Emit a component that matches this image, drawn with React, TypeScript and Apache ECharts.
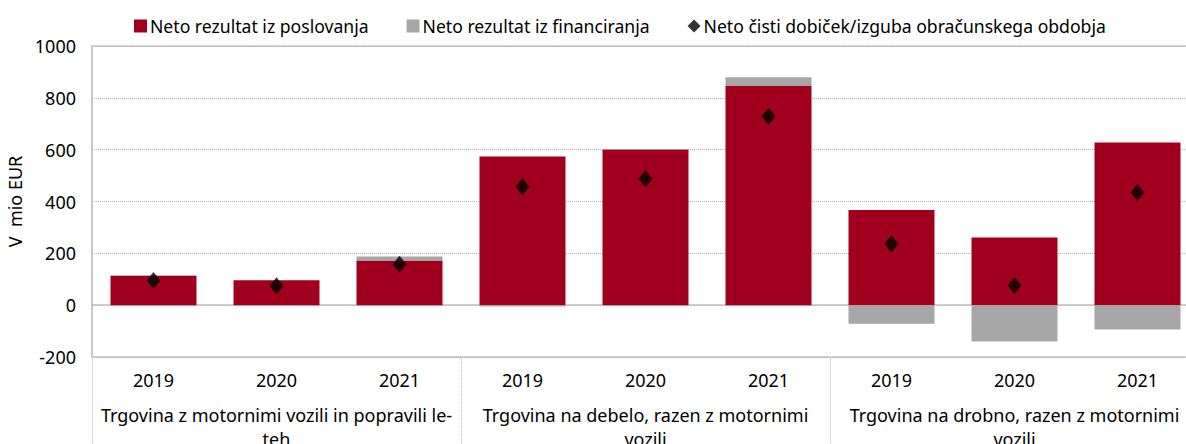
import React, { useEffect, useRef } from "react";
import * as echarts from "echarts";

const years = ["2019", "2020", "2021", "2019", "2020", "2021", "2019", "2020", "2021"];
const groups = [
  "Trgovina z motornimi vozili in popravili le-\nteh",
  "Trgovina na debelo, razen z motornimi\nvozili",
  "Trgovina na drobno, razen z motornimi\nvozili",
];
const poslovanje = [113, 96, 172, 574, 601, 846, 367, 261, 628];
const financiranje = [2, -3, 16, -5, 2, 33, -72, -140, -94];
const cistiDobicek = [95, 75, 158, 457, 488, 729, 237, 76, 435];
const yTicks = { min: -200, max: 1000, interval: 200 };

const FONT = "'Noto Sans', sans-serif";
const FS = 18;

export default function App() {
  const ref = useRef<HTMLDivElement>(null);
  useEffect(() => {
    if (!ref.current) return;
    const chart = echarts.init(ref.current, undefined, { renderer: "svg" });
    chart.setOption({
      animation: false,
      textStyle: { fontFamily: FONT },
      legend: {
        left: 129,
        top: 12,
        itemGap: 38,
        itemWidth: 13,
        itemHeight: 13,
        textStyle: { fontSize: 17.6, color: "#000", fontFamily: FONT, padding: [0, 0, 0, -2] },
        data: [
          { name: "Neto rezultat iz poslovanja", icon: "rect" },
          { name: "Neto rezultat iz financiranja", icon: "rect" },
          { name: "Neto čisti dobiček/izguba obračunskega obdobja", icon: "diamond" },
        ],
      },
      grid: {
        left: 92,
        top: 46,
        bottom: 87,
        right: -13,
        show: true,
        borderColor: "#c4c4c4",
        borderWidth: 1.5,
        outerBoundsMode: "none",
        containLabel: false,
      },
      xAxis: [
        {
          type: "category",
          data: years,
          axisLine: { show: true, lineStyle: { color: "#bfbfbf", width: 1.5 } },
          axisTick: { show: false },
          axisLabel: { color: "#000", fontSize: FS, margin: 14, fontFamily: FONT, interval: 0 },
        },
        {
          type: "category",
          data: groups,
          position: "bottom",
          axisLine: { show: false },
          axisTick: {
            show: true,
            length: 90,
            lineStyle: { color: "#bfbfbf", type: "dotted", width: 1 },
          },
          axisLabel: {
            color: "#000",
            fontSize: FS,
            margin: 46,
            lineHeight: 24,
            fontFamily: FONT,
            interval: 0,
            hideOverlap: false,
          },
        },
      ],
      yAxis: {
        type: "value",
        min: yTicks.min,
        max: yTicks.max,
        interval: yTicks.interval,
        name: "V  mio EUR",
        nameLocation: "middle",
        nameGap: 66,
        nameTextStyle: { color: "#000", fontSize: FS, fontFamily: FONT },
        axisLine: { show: true, lineStyle: { color: "#c4c4c4", width: 1.5 } },
        axisTick: { show: false },
        axisLabel: {
          color: "#000",
          fontSize: FS,
          margin: 16,
          fontFamily: FONT,
          formatter: (v: number) => String(v),
        },
        splitLine: { show: true, lineStyle: { color: "#b0b0b0", type: "dotted", width: 1 } },
      },
      series: [
        {
          name: "Neto rezultat iz poslovanja",
          type: "bar",
          stack: "total",
          barWidth: 86,
          data: poslovanje,
          itemStyle: { color: "#a0001e" },
        },
        {
          name: "Neto rezultat iz financiranja",
          type: "bar",
          stack: "total",
          barWidth: 86,
          data: financiranje,
          itemStyle: { color: "#a6a6a6" },
        },
        {
          name: "Neto čisti dobiček/izguba obračunskega obdobja",
          type: "scatter",
          symbol: "diamond",
          symbolSize: [14, 17],
          data: cistiDobicek,
          itemStyle: { color: "#000" },
          z: 5,
        },
      ],
    });
    return () => chart.dispose();
  }, []);
  return (
    <div
      ref={ref}
      style={{ position: "absolute", left: 0, top: 0, width: 1186, height: 444 }}
    />
  );
}
